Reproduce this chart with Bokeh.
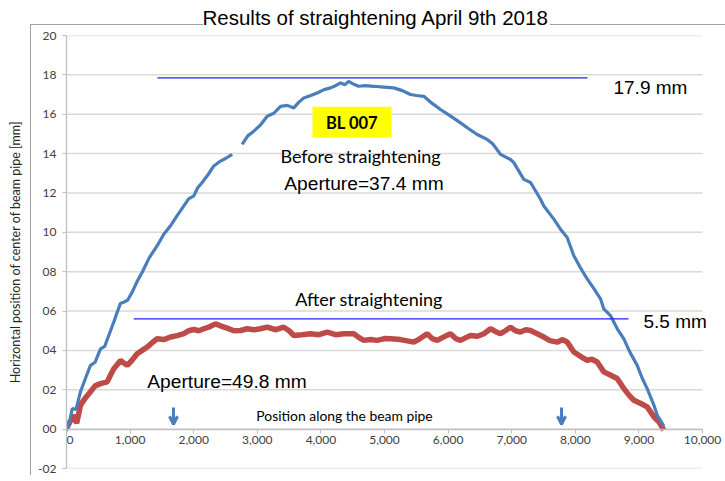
from bokeh.plotting import figure
from bokeh.models import (ColumnDataSource, FixedTicker, Label,
                          BoxAnnotation, Arrow, OpenHead, Range1d)
from bokeh.embed import file_html
from bokeh.resources import INLINE

nan = float("nan")

# ---- data: Before straightening (blue) ----
before_x = [0, 50, 90, 150, 220, 300, 377, 450, 535, 600, 692, 750, 797, 850, 902, 960,
            1033, 1110, 1190, 1300, 1426, 1530, 1635, 1740, 1845, 1920, 2002, 2060, 2133,
            2230, 2316, 2421, 2500, 2605, 2680, 2762, 2850, 2945, 3050, 3155, 3260, 3365,
            3470, 3574, 3650, 3731, 3840, 3941, 4050, 4151, 4230, 4308, 4380, 4434, 4500,
            4591, 4700, 4832, 4990, 5146, 5280, 5409, 5500, 5618, 5750, 5880, 6040, 6195,
            6330, 6457, 6614, 6700, 6824, 6981, 7033, 7190, 7296, 7453, 7505, 7662, 7767,
            7872, 7977, 8080, 8187, 8300, 8396, 8448, 8553, 8660, 8763, 8860, 8973, 9050,
            9130, 9235, 9287, 9392]
before_y = [-0.1, 0.4, 1.05, 1.0, 1.9, 2.6, 3.24, 3.4, 4.08, 4.2, 5.0, 5.5, 5.94, 6.4, 6.45, 6.55,
            6.96, 7.5, 7.97, 8.7, 9.32, 9.9, 10.33, 10.85, 11.34, 11.7, 11.85, 12.25, 12.53,
            12.95, 13.37, 13.62, 13.75, 13.96, nan, 14.47, 14.9, 15.14, 15.45, 15.9, 16.05, 16.4,
            16.45, 16.32, 16.6, 16.83, 16.95, 17.08, 17.25, 17.34, 17.45, 17.59, 17.5, 17.67, 17.55,
            17.42, 17.45, 17.42, 17.38, 17.34, 17.2, 17.0, 16.95, 16.91, 16.55, 16.24, 15.9, 15.56,
            15.25, 14.97, 14.72, 14.5, 13.96, 13.7, 13.54, 12.69, 12.53, 11.68, 11.34, 10.67, 10.16,
            9.74, 8.81, 8.2, 7.63, 7.1, 6.62, 6.11, 5.77, 5.1, 4.59, 3.9, 3.24, 2.6,
            2.06, 1.22, 0.71, 0.15]

# ---- data: After straightening (red) ----
after_x = [0, 60, 115, 160, 220, 300, 377, 450, 535, 640, 700, 744, 849, 954, 1030, 1111, 1190,
           1269, 1350, 1426, 1530, 1635, 1740, 1845, 1920, 2002, 2080, 2159, 2250, 2343, 2420,
           2527, 2630, 2736, 2841, 2945, 3050, 3156, 3290, 3417, 3500, 3574, 3700, 3836, 3970,
           4099, 4230, 4360, 4517, 4600, 4675, 4780, 4885, 5000, 5094, 5250, 5461, 5560, 5671,
           5750, 5829, 5940, 6038, 6120, 6195, 6280, 6352, 6462, 6562, 6667, 6750, 6824, 6900,
           6981, 7060, 7138, 7220, 7296, 7400, 7505, 7600, 7715, 7800, 7872, 7977, 8080, 8187,
           8260, 8344, 8448, 8550, 8658, 8763, 8850, 8920, 9030, 9130, 9235, 9320, 9392]
after_y = [0.03, 0.4, 0.71, 0.3, 1.22, 1.6, 1.9, 2.2, 2.31, 2.4, 2.8, 3.07, 3.49, 3.24, 3.5, 3.83, 4.0,
           4.17, 4.4, 4.59, 4.55, 4.68, 4.75, 4.85, 5.0, 5.06, 5.0, 5.1, 5.2, 5.35, 5.25,
           5.13, 5.0, 5.01, 5.1, 5.05, 5.1, 5.18, 5.05, 5.18, 5.0, 4.76, 4.8, 4.85, 4.8,
           4.93, 4.8, 4.85, 4.85, 4.65, 4.51, 4.55, 4.51, 4.6, 4.59, 4.55, 4.42, 4.6, 4.85,
           4.6, 4.51, 4.7, 4.85, 4.6, 4.51, 4.65, 4.76, 4.72, 4.85, 5.1, 4.95, 4.85, 5.0,
           5.18, 5.0, 4.93, 5.05, 5.01, 4.85, 4.68, 4.5, 4.42, 4.55, 4.42, 3.92, 3.7, 3.49,
           3.55, 3.41, 2.91, 2.75, 2.57, 2.06, 1.7, 1.47, 1.3, 1.13, 0.63, 0.35, -0.05]

# ---- reference (max deviation) lines ----
ref_x0 = [1431, 1058]
ref_x1 = [8192, 8836]
ref_y = [17.85, 5.6]

# ---- marker arrows ----
arrow_x = [1682, 7783]

x_ticks = [0, 1000, 2000, 3000, 4000, 5000, 6000, 7000, 8000, 9000, 10000]
y_ticks = [-2, 0, 2, 4, 6, 8, 10, 12, 14, 16, 18, 20]
y_labels = ["-02", "00", "02", "04", "06", "08", "10", "12", "14", "16", "18", "20"]
x_labels = ["00", "1,000", "2,000", "3,000", "4,000", "5,000", "6,000", "7,000", "8,000", "9,000", "10,000"]

BLUE = "#4a7ebb"
RED = "#be4b48"
GRID = "#d9d9d9"
AX_FONT = "Lato"
FRAME = "#a0a0a0"

# the frame runs a little past 10,000 so that right-hand texts are not clipped;
# axis line and grid lines stop at 10,000 as in the original
X_MAX = 10000
p = figure(width=725, height=475, output_backend="svg", toolbar_location=None,
           x_range=Range1d(0, X_MAX + 314), y_range=Range1d(-2, 20),
           min_border_left=66, min_border_right=3, min_border_top=35, min_border_bottom=7)
p.outline_line_color = None
p.background_fill_color = "white"
p.border_fill_alpha = 0

# slide-chart frame (left and top edges), drawn as CSS background behind the transparent canvas border
p.styles = {
    "background-color": "white",
    "background-image": "linear-gradient(%s,%s), linear-gradient(%s,%s), linear-gradient(%s,%s)"
                        % (FRAME, FRAME, FRAME, FRAME, FRAME, FRAME),
    "background-size": "1px 451px, 173px 1px, 175px 1px",
    "background-position": "30px 24px, 30px 24px, 550px 24px",
    "background-repeat": "no-repeat",
}

p.title.text = "Results of straightening April 9th 2018"
p.title.text_font = "Liberation Sans"
p.title.text_font_size = "20.5px"
p.title.text_font_style = "normal"
p.title.align = "left"
p.title.vertical_align = "top"
p.title.offset = 136
p.title.standoff = 9
p.title.text_color = "#000000"

# axes
p.xaxis.ticker = FixedTicker(ticks=x_ticks)
p.xaxis.major_label_overrides = {t: l for t, l in zip(x_ticks, x_labels)}
p.xaxis.fixed_location = 0
p.xaxis.bounds = (0, X_MAX)
p.yaxis.ticker = FixedTicker(ticks=y_ticks)
p.yaxis.major_label_overrides = {t: l for t, l in zip(y_ticks, y_labels)}
p.yaxis.axis_label = "Horizontal position of center of beam pipe [mm]"
p.yaxis.axis_label_text_font = AX_FONT
p.yaxis.axis_label_text_font_size = "12.5px"
p.yaxis.axis_label_text_font_style = "normal"
p.yaxis.axis_label_text_color = "#262626"
p.yaxis.axis_label_standoff = 12
for ax in (p.xaxis, p.yaxis):
    ax.axis_line_color = "#bfbfbf"
    ax.axis_line_width = 1.3
    ax.major_tick_line_color = "#bfbfbf"
    ax.major_tick_out = 4
    ax.major_tick_in = 0
    ax.minor_tick_line_color = None
    ax.major_label_text_font = AX_FONT
    ax.major_label_text_font_size = "12px"
    ax.major_label_text_color = "#404040"
p.yaxis.major_label_standoff = 6
p.xaxis.major_label_standoff = 3

# horizontal grid lines at the y ticks, from 0 to 10,000 only
p.xgrid.grid_line_color = None
p.ygrid.grid_line_color = None
p.segment(x0=[0] * len(y_ticks), x1=[X_MAX] * len(y_ticks), y0=y_ticks, y1=y_ticks,
          line_color=GRID, line_width=1.5, level="underlay")

# series
src_b = ColumnDataSource(dict(x=before_x, y=before_y))
src_a = ColumnDataSource(dict(x=after_x, y=after_y))
p.line("x", "y", source=src_a, line_color=RED, line_width=5.5)
p.line("x", "y", source=src_b, line_color=BLUE, line_width=3.2)

# reference lines
p.segment(x0=ref_x0, y0=ref_y, x1=ref_x1, y1=ref_y, line_color="#1f1fff", line_width=1.3)

# arrows
arr_src = ColumnDataSource(dict(xs=arrow_x, xe=arrow_x, ys=[1.1] * len(arrow_x), ye=[0.25] * len(arrow_x)))
p.add_layout(Arrow(source=arr_src, x_start="xs", x_end="xe", y_start="ys", y_end="ye",
                   line_color=BLUE, line_width=3,
                   end=OpenHead(size=8, line_color=BLUE, line_width=3)))

# yellow tag
p.add_layout(BoxAnnotation(left=3868, right=5110, top=16.38, bottom=14.82,
                           fill_color="#ffff00", fill_alpha=1, line_color=None))

def lab(x, y, text, font, size, bold=False, align="center"):
    p.add_layout(Label(x=x, y=y, text=text, text_font=font, text_font_size=size,
                       text_font_style="bold" if bold else "normal", text_align=align,
                       text_baseline="middle", text_color="#000000"))

lab(4489, 15.55, "BL 007", "Lato", "16.5px", bold=True)
lab(4623, 13.9, "Before straightening", "Lato", "18px")
lab(4678, 12.49, "Aperture=37.4 mm", "Liberation Sans", "19.2px")
lab(8600, 17.35, "17.9 mm", "Liberation Sans", "19px", align="left")
lab(4756, 6.62, "After straightening", "Lato", "18px")
lab(9072, 5.45, "5.5 mm", "Liberation Sans", "19px", align="left")
lab(2524, 2.42, "Aperture=49.8 mm", "Liberation Sans", "19.2px")
lab(4371, 0.69, "Position along the beam pipe", "Lato", "13.9px")

open("out.html", "w").write(file_html(p, INLINE))
